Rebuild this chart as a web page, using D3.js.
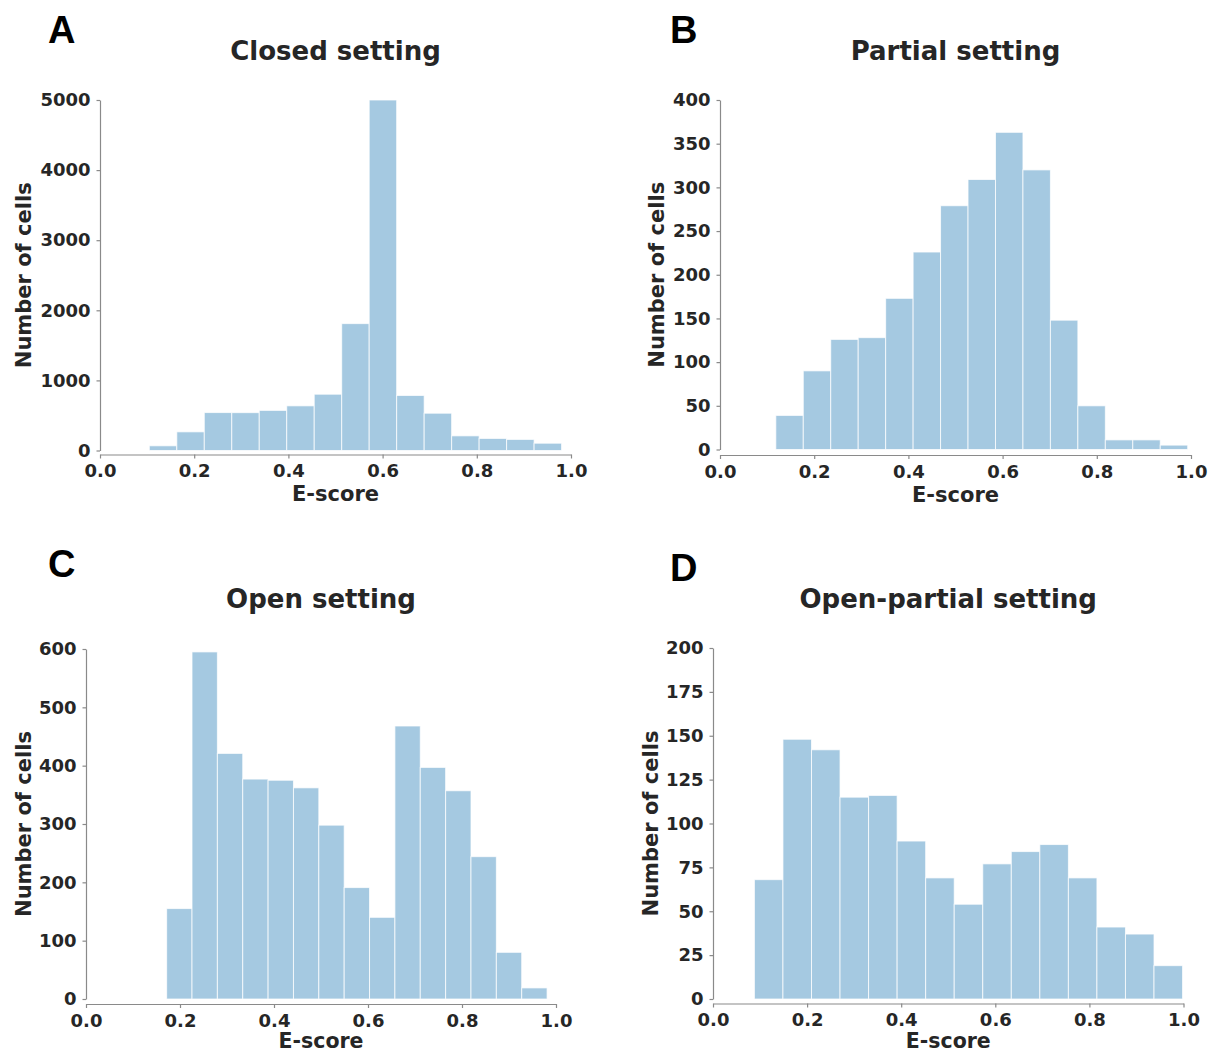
<!DOCTYPE html>
<html>
<head>
<meta charset="utf-8">
<script src="https://cdn.jsdelivr.net/npm/d3@7"></script>
<style>
  html, body { margin: 0; padding: 0; background: #fff; }
  svg { display: block; }
  .tick text { font-family: "DejaVu Sans", sans-serif; font-weight: bold; font-size: 18px; fill: #262626; }
</style>
</head>
<body>
<svg id="chart" width="1209" height="1052"></svg>
<script>
// ---- Data ----
const xTickValues = [0, 0.2, 0.4, 0.6, 0.8, 1.0];

const closedCounts = [67, 266, 541, 540, 572, 637, 803, 1810, 5000, 785, 532, 209, 172, 158, 104];
const closedRange = [0.1047, 0.980];
const closedYTicks = [0, 1000, 2000, 3000, 4000, 5000];

const partialCounts = [39, 90, 126, 128, 173, 226, 279, 309, 363, 320, 148, 50, 11, 11, 5];
const partialRange = [0.1185, 0.993];
const partialYTicks = [0, 50, 100, 150, 200, 250, 300, 350, 400];

const openCounts = [155, 595, 421, 377, 375, 362, 298, 191, 140, 468, 397, 357, 244, 80, 19];
const openRange = [0.1716, 0.981];
const openYTicks = [0, 100, 200, 300, 400, 500, 600];

const openPartialCounts = [68, 148, 142, 115, 116, 90, 69, 54, 77, 84, 88, 69, 41, 37, 19];
const openPartialRange = [0.088, 0.998];
const openPartialYTicks = [0, 25, 50, 75, 100, 125, 150, 175, 200];

const panelLetters = ["A", "B", "C", "D"];
const panelTitles = ["Closed setting", "Partial setting", "Open setting", "Open-partial setting"];
const xLabel = "E-score";
const yLabel = "Number of cells";

// ---- Layout (positions only) ----
const layout = [
  { x0: 100, x1: 571, yTop: 100, yBot: 450.5, axisY: 454.5, titleY: 60, letterX: 48, letterY: 43, yLabX: 31, xLabY: 501, xLabSize: 21 },
  { x0: 720, x1: 1191, yTop: 100, yBot: 449.5, axisY: 455, titleY: 60, letterX: 670, letterY: 43, yLabX: 664, xLabY: 502, xLabSize: 21 },
  { x0: 86, x1: 556, yTop: 649, yBot: 999, axisY: 1004, titleY: 608, letterX: 48, letterY: 577, yLabX: 31, xLabY: 1047.5, xLabSize: 20.5 },
  { x0: 713, x1: 1183.5, yTop: 648, yBot: 999, axisY: 1003.5, titleY: 608, letterX: 670, letterY: 581, yLabX: 658, xLabY: 1047.5, xLabSize: 20.5 }
];

const panels = [
  { counts: closedCounts, range: closedRange, yTicks: closedYTicks },
  { counts: partialCounts, range: partialRange, yTicks: partialYTicks },
  { counts: openCounts, range: openRange, yTicks: openYTicks },
  { counts: openPartialCounts, range: openPartialRange, yTicks: openPartialYTicks }
];

const barColor = "#a5c9e1";
const spineColor = "#8a8a8a";
const textColor = "#262626";

const svg = d3.select("#chart");

panels.forEach((p, i) => {
  const L = layout[i];
  const g = svg.append("g");
  const x = d3.scaleLinear().domain([0, 1]).range([L.x0, L.x1]);
  const yMax = p.yTicks[p.yTicks.length - 1];
  const y = d3.scaleLinear().domain([0, yMax]).range([L.yBot, L.yTop]);

  const n = p.counts.length;
  const w = (p.range[1] - p.range[0]) / n;
  const bins = p.counts.map((c, k) => ({ x0: p.range[0] + k * w, x1: p.range[0] + (k + 1) * w, c }));

  g.selectAll("rect.bar").data(bins).enter().append("rect")
    .attr("class", "bar")
    .attr("x", d => x(d.x0))
    .attr("width", d => x(d.x1) - x(d.x0))
    .attr("y", d => y(d.c))
    .attr("height", d => y(0) - y(d.c))
    .attr("fill", barColor)
    .attr("stroke", "#ffffff")
    .attr("stroke-opacity", 0.75)
    .attr("stroke-width", 1);

  // y axis
  const yAxis = g.append("g")
    .attr("transform", `translate(${L.x0},0)`)
    .call(d3.axisLeft(y).tickValues(p.yTicks).tickFormat(d3.format("d")).tickSize(3.5).tickSizeOuter(0).tickPadding(6));
  yAxis.select(".domain").attr("stroke", spineColor).attr("stroke-width", 1.2);
  yAxis.selectAll(".tick line").attr("stroke", spineColor).attr("stroke-width", 1.2);
  yAxis.selectAll(".tick text").attr("fill", textColor);

  // x axis (offset slightly below zero)
  const xAxis = g.append("g")
    .attr("transform", `translate(0,${L.axisY})`)
    .call(d3.axisBottom(x).tickValues(xTickValues).tickFormat(d3.format(".1f")).tickSize(4).tickSizeOuter(0).tickPadding(6));
  xAxis.select(".domain").attr("stroke", spineColor).attr("stroke-width", 1.2);
  xAxis.selectAll(".tick line").attr("stroke", spineColor).attr("stroke-width", 1.2);
  xAxis.selectAll(".tick text").attr("fill", textColor);

  // title
  g.append("text")
    .attr("x", (L.x0 + L.x1) / 2)
    .attr("y", L.titleY)
    .attr("text-anchor", "middle")
    .style("font-family", "DejaVu Sans, sans-serif")
    .style("font-weight", "bold")
    .style("font-size", "26px")
    .attr("fill", textColor)
    .text(panelTitles[i]);

  // panel letter
  g.append("text")
    .attr("x", L.letterX)
    .attr("y", L.letterY)
    .style("font-family", "Liberation Sans, Arial, sans-serif")
    .style("font-weight", "bold")
    .style("font-size", "38px")
    .attr("fill", "#000")
    .text(panelLetters[i]);

  // x label
  g.append("text")
    .attr("x", (L.x0 + L.x1) / 2)
    .attr("y", L.xLabY)
    .attr("text-anchor", "middle")
    .style("font-family", "DejaVu Sans, sans-serif")
    .style("font-weight", "bold")
    .style("font-size", L.xLabSize + "px")
    .attr("fill", textColor)
    .text(xLabel);

  // y label
  g.append("text")
    .attr("transform", `translate(${L.yLabX},${(L.yTop + L.yBot) / 2}) rotate(-90)`)
    .attr("text-anchor", "middle")
    .style("font-family", "DejaVu Sans, sans-serif")
    .style("font-weight", "bold")
    .style("font-size", "21px")
    .attr("fill", textColor)
    .text(yLabel);
});
</script>
</body>
</html>
